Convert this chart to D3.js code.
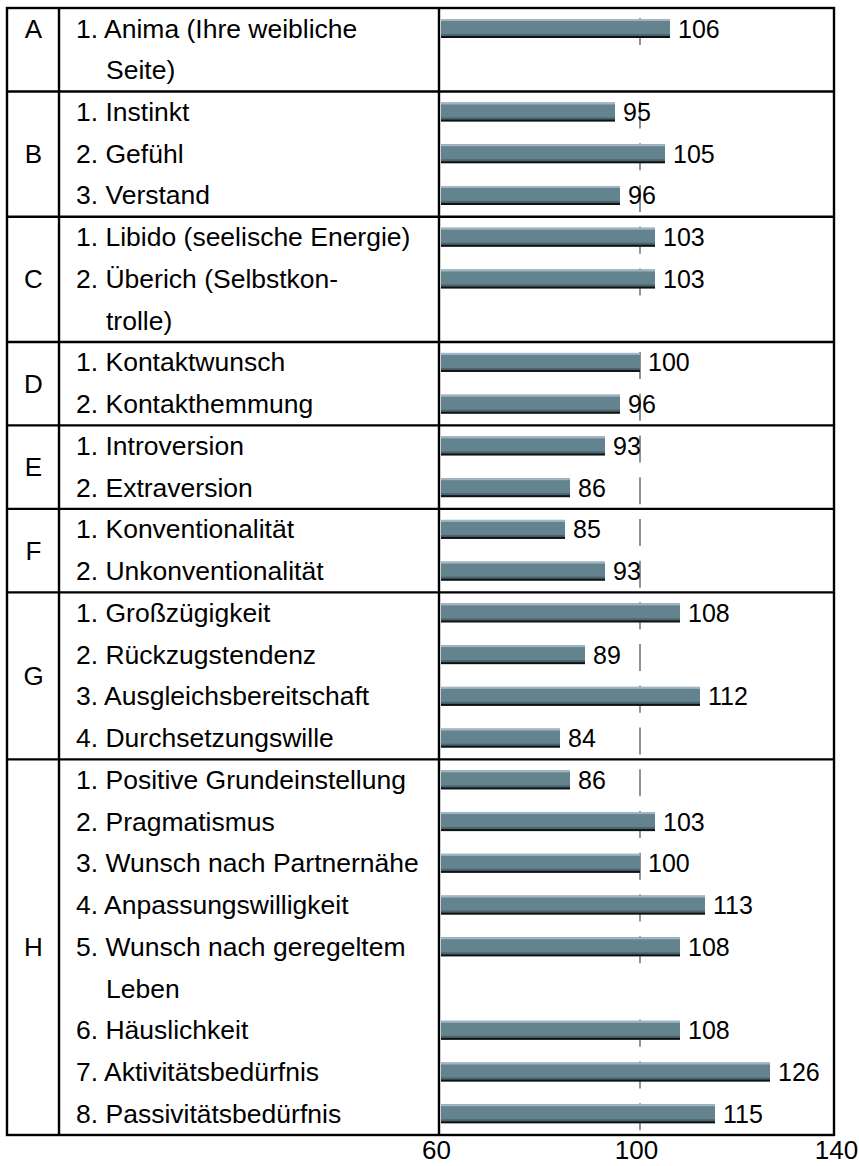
<!DOCTYPE html>
<html>
<head>
<meta charset="utf-8">
<script src="https://cdn.jsdelivr.net/npm/d3@7"></script>
<style>
  html, body { margin: 0; padding: 0; background: #fff; }
  svg text { font-family: "Liberation Sans", Arial, sans-serif; fill: #000; }
</style>
</head>
<body>
<svg id="chart" width="859" height="1166"></svg>
<script>
// ---- data ----
const groupLetters = ["A", "B", "C", "D", "E", "F", "G", "H"];
const letterAlign = ["top", "middle", "middle", "middle", "middle", "middle", "middle", "middle"];
const itemLabels = [
  [["1. Anima (Ihre weibliche", "Seite)"]],
  [["1. Instinkt"], ["2. Gefühl"], ["3. Verstand"]],
  [["1. Libido (seelische Energie)"], ["2. Überich (Selbstkon-", "trolle)"]],
  [["1. Kontaktwunsch"], ["2. Kontakthemmung"]],
  [["1. Introversion"], ["2. Extraversion"]],
  [["1. Konventionalität"], ["2. Unkonventionalität"]],
  [["1. Großzügigkeit"], ["2. Rückzugstendenz"], ["3. Ausgleichsbereitschaft"], ["4. Durchsetzungswille"]],
  [["1. Positive Grundeinstellung"], ["2. Pragmatismus"], ["3. Wunsch nach Partnernähe"],
   ["4. Anpassungswilligkeit"], ["5. Wunsch nach geregeltem", "Leben"], ["6. Häuslichkeit"],
   ["7. Aktivitätsbedürfnis"], ["8. Passivitätsbedürfnis"]]
];
const values = [
  [106],
  [95, 105, 96],
  [103, 103],
  [100, 96],
  [93, 86],
  [85, 93],
  [108, 89, 112, 84],
  [86, 103, 100, 113, 108, 108, 126, 115]
];
const axisTicks = [60, 100, 140];
const referenceValue = 100;

// ---- layout ----
const svg = d3.select("#chart");
const tableLeft = 7, tableRight = 834, tableTop = 8, tableBottom = 1135;
const col1 = 59, col2 = 439;

const groups = [];
const bars = [];
const lines = [];
let lineIdx = 0;
groupLetters.forEach((letter, gi) => {
  const start = lineIdx;
  itemLabels[gi].forEach((lbl, ii) => {
    bars.push({ line: lineIdx, value: values[gi][ii] });
    lbl.forEach((t, k) => {
      lines.push({ line: lineIdx, text: t, cont: k > 0 });
      lineIdx++;
    });
  });
  groups.push({ letter, start, end: lineIdx, align: letterAlign[gi] });
});
const totalLines = lineIdx;

const y = d3.scaleLinear().domain([0, totalLines]).range([tableTop, tableBottom]);
const x = d3.scaleLinear().domain([60, 140]).range([440, 840]);

// reference ticks at 100 (behind bars)
svg.append("g").selectAll("line").data(bars).join("line")
  .attr("x1", x(referenceValue)).attr("x2", x(referenceValue))
  .attr("y1", d => y(d.line) + 10).attr("y2", d => y(d.line) + 37)
  .attr("stroke", "#4a4a4a").attr("stroke-width", 1.2);

// bars
const barTop = 11, barH = 19;
const bg = svg.append("g").selectAll("g").data(bars).join("g");
const bx = x(60) + 1;
bg.append("rect").attr("x", bx).attr("width", d => x(d.value) - bx)
  .attr("y", d => y(d.line) + barTop).attr("height", barH).attr("fill", "#63848f");
bg.append("rect").attr("x", bx).attr("width", d => x(d.value) - bx)
  .attr("y", d => y(d.line) + barTop).attr("height", 2).attr("fill", "#a3b5c4");
bg.append("rect").attr("x", bx).attr("width", d => x(d.value) - bx)
  .attr("y", d => y(d.line) + barTop + barH - 4).attr("height", 2).attr("fill", "#4a6470");
bg.append("rect").attr("x", bx).attr("width", d => x(d.value) - bx)
  .attr("y", d => y(d.line) + barTop + barH - 2).attr("height", 2).attr("fill", "#111");

// value labels
svg.append("g").selectAll("text").data(bars).join("text")
  .attr("x", d => x(d.value) + 8)
  .attr("y", d => y(d.line) + 29.5)
  .attr("font-size", 25)
  .text(d => d.value);

// row labels
svg.append("g").selectAll("text").data(lines).join("text")
  .attr("x", d => d.cont ? 106 : 76)
  .attr("y", d => y(d.line) + 29.5)
  .attr("font-size", 26.5)
  .text(d => d.text);

// group letters
svg.append("g").selectAll("text").data(groups).join("text")
  .attr("x", (tableLeft + col1) / 2 + 0.5)
  .attr("text-anchor", "middle")
  .attr("y", d => d.align === "top" ? y(d.start) + 29.5 : (y(d.start) + y(d.end)) / 2 + 9)
  .attr("font-size", 26)
  .text(d => d.letter);

// table grid
const grid = svg.append("g").attr("stroke", "#000").attr("stroke-width", 2.4).attr("fill", "none");
grid.append("rect").attr("x", tableLeft).attr("y", tableTop)
  .attr("width", tableRight - tableLeft).attr("height", tableBottom - tableTop);
grid.selectAll("line.sep").data(groups.slice(1)).join("line").attr("class", "sep")
  .attr("x1", tableLeft).attr("x2", tableRight)
  .attr("y1", d => y(d.start)).attr("y2", d => y(d.start));
grid.append("line").attr("x1", col1).attr("x2", col1).attr("y1", tableTop).attr("y2", tableBottom);
grid.append("line").attr("x1", col2).attr("x2", col2).attr("y1", tableTop).attr("y2", tableBottom);

// axis
const axis = d3.axisBottom(x).tickValues(axisTicks).tickSize(0).tickFormat(d3.format("d"));
const ag = svg.append("g").attr("transform", `translate(0,${tableBottom})`).call(axis);
ag.select(".domain").remove();
ag.selectAll("text")
  .attr("y", 24).attr("dy", 0).attr("dx", -4)
  .attr("font-size", 26)
  .attr("font-family", "Liberation Sans, Arial, sans-serif")
  .attr("fill", "#000");
</script>
</body>
</html>
